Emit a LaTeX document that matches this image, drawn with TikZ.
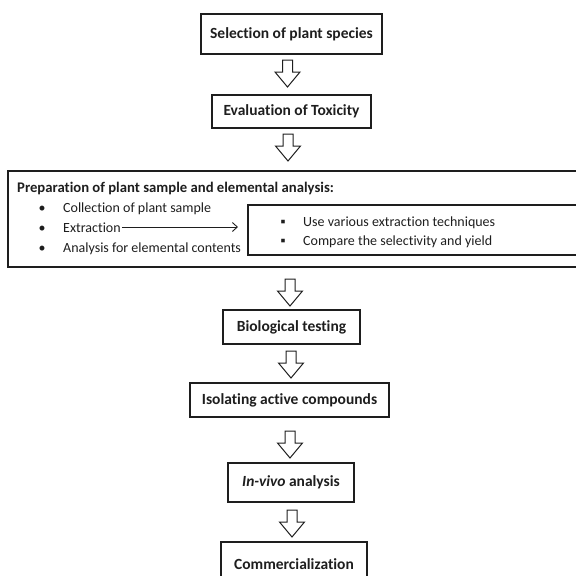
\documentclass[tikz,border=0pt]{standalone}
\usepackage{fontspec}
\setmainfont{Carlito}[Ligatures=NoCommon]
\usetikzlibrary{arrows.meta}
\definecolor{ink}{HTML}{1E1E1E}
\tikzset{
  x=1pt,y=-1pt,
  box/.style={draw=ink,line width=1.3pt,inner sep=0pt,font=\fontsize{15.5}{17}\selectfont\bfseries,text=ink},
  itm/.style={inner sep=0pt,anchor=base west,font=\fontsize{14}{16}\selectfont,text=ink},
  bul/.style={inner sep=0pt,anchor=base,font=\fontsize{14}{16}\selectfont,text=ink},
  blk/.style={draw=ink,line width=1pt,fill=white,line join=miter},
  pics/downarrow/.style={code={
    \draw[blk] (-5,0) -- (5,0) -- (5,12) -- (12.5,12) -- (0,27) -- (-12.5,12) -- (-5,12) -- cycle;}}
}
\begin{document}
\begin{tikzpicture}
\useasboundingbox (0,0) rectangle (576,576);
\clip (0,0) rectangle (576,576);
\node[box,minimum width=181,minimum height=40] (b1) at (291.5,34) {Selection of plant species};
\node[box,minimum width=159,minimum height=33] (b2) at (291.5,111.5) {Evaluation of Toxicity};
\node[draw=ink,line width=1.3pt,minimum width=572,minimum height=96,inner sep=0pt] (b3) at (294,219) {};
\node[draw=ink,line width=1.3pt,minimum width=332,minimum height=50,inner sep=0pt] (b3in) at (414,230) {};
\node[itm,font=\fontsize{14.7}{16}\selectfont\bfseries] (t3) at (17,192) {Preparation of plant sample and elemental analysis:};
\node[bul] (p1) at (42,212) {•};
\node[itm] (i1) at (63,212) {Collection of plant sample};
\node[bul] (p2) at (42,232) {•};
\node[itm] (i2) at (63,232) {Extraction};
\node[bul] (p3) at (42,252) {•};
\node[itm] (i3) at (63,252) {Analysis for elemental contents};
\node[bul] (q1) at (283,226) {▪};
\node[itm] (j1) at (303,226) {Use various extraction techniques};
\node[bul] (q2) at (283,245) {▪};
\node[itm] (j2) at (303,245) {Compare the selectivity and yield};
\coordinate (xa) at (238,227);
\draw[ink,line width=0.9pt,-{Straight Barb[length=5pt,width=9pt]}] (i2.east |- xa) ++(1,0) -- (xa);
\node[box,minimum width=137,minimum height=34] (b4) at (291.5,327) {Biological testing};
\node[box,minimum width=199,minimum height=34] (b5) at (289.5,400) {Isolating active compounds};
\node[box,minimum width=126,minimum height=39] (b6) at (291,482.5) {\itshape In-vivo\upshape{} analysis};
\node[box,minimum width=146,minimum height=48,text depth=0pt] (b7) at (294,566) {\raisebox{4pt}{Commercialization}};
\pic at (287.5,60) {downarrow};
\pic at (288,134) {downarrow};
\pic at (290,279) {downarrow};
\pic at (291,351) {downarrow};
\pic at (290,431) {downarrow};
\pic at (292,510) {downarrow};
\end{tikzpicture}
\end{document}
